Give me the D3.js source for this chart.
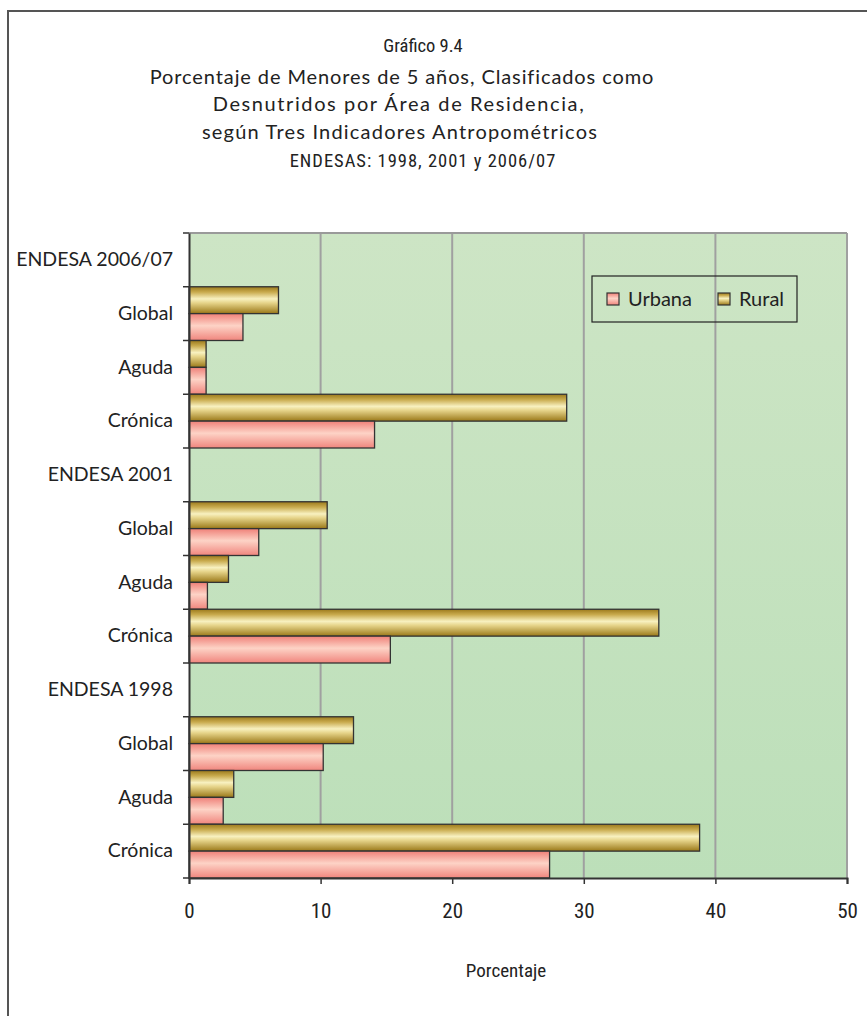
<!DOCTYPE html>
<html><head><meta charset="utf-8">
<script src="https://cdn.jsdelivr.net/npm/d3@7"></script>
<style>body{margin:0;background:#fff}svg{display:block}</style>
</head><body>
<svg id="chart" width="867" height="1016"></svg>
<script>
const titleLines = ["Gráfico 9.4","Porcentaje de Menores de 5 años, Clasificados como","Desnutridos por Área de Residencia,","según Tres Indicadores Antropométricos","ENDESAS: 1998, 2001 y 2006/07"];
const categoryIds = ["h2006","g2006","a2006","c2006","h2001","g2001","a2001","c2001","h1998","g1998","a1998","c1998"];
const categoryLabels = ["ENDESA 2006/07","Global","Aguda","Crónica","ENDESA 2001","Global","Aguda","Crónica","ENDESA 1998","Global","Aguda","Crónica"];
const urbana = [null,4.1,1.3,14.1,null,5.3,1.4,15.3,null,10.2,2.6,27.4];
const rural  = [null,6.8,1.3,28.7,null,10.5,3.0,35.7,null,12.5,3.4,38.8];
const seriesNames = ["Rural","Urbana"];
const xTicks = [0,10,20,30,40,50];
const xTitle = "Porcentaje";

const svg = d3.select("#chart");
const defs = svg.append("defs");
function vgrad(id, stops){
  const g = defs.append("linearGradient").attr("id",id).attr("x1",0).attr("y1",0).attr("x2",0).attr("y2",1);
  stops.forEach(s=>g.append("stop").attr("offset",s[0]).attr("stop-color",s[1]));
}
vgrad("bg",[["0%","#cde5c5"],["100%","#bcdfb9"]]);
vgrad("gRural",[["0%","#9c7a1c"],["20%","#c9ab4e"],["45%","#f8f1c0"],["60%","#e6d48a"],["100%","#9a7818"]]);
vgrad("gUrbana",[["0%","#ef8078"],["45%","#fdd3c6"],["100%","#f0857d"]]);
const fillOf = {Rural:"url(#gRural)", Urbana:"url(#gUrbana)"};

// outer frame
svg.append("path").attr("d","M8,1016 V11 H867").attr("fill","none").attr("stroke","#555").attr("stroke-width",2);

// title
const tfont = "'Liberation Sans Narrow','Roboto Condensed','Open Sans',sans-serif";
const lfont = "Lato,'Open Sans',sans-serif";
const titleFont = [tfont, lfont, lfont, lfont, tfont];
const titleSize = [18.5, 20, 20, 20, 18.5];
const titleSpacing = [0, 0.9, 1.6, 1.2, 1];
const titleCx = [423, 402, 399, 400, 423];
svg.append("g").selectAll("text").data(titleLines).join("text")
  .attr("x",(d,i)=>titleCx[i])
  .attr("y",(d,i)=> i===0 ? 51.5 : 83.5+(i-1)*27.7)
  .attr("text-anchor","middle")
  .attr("letter-spacing",(d,i)=>titleSpacing[i])
  .attr("font-family",(d,i)=>titleFont[i]).attr("font-size",(d,i)=>titleSize[i]).attr("fill","#222")
  .text(d=>d);

const m = {left:189, right:847, top:233, bottom:878};
const x = d3.scaleLinear().domain([0,50]).range([m.left,m.right]);
const y = d3.scaleBand().domain(categoryIds).range([m.top,m.bottom]).padding(0);
const ySub = d3.scaleBand().domain(seriesNames).range([0,y.bandwidth()]).padding(0);

// plot bg
svg.append("rect").attr("x",m.left).attr("y",m.top).attr("width",m.right-m.left).attr("height",m.bottom-m.top).attr("fill","url(#bg)");
// gridlines
svg.append("g").selectAll("line").data(xTicks.slice(1)).join("line")
  .attr("x1",d=>x(d)).attr("x2",d=>x(d)).attr("y1",m.top).attr("y2",m.bottom)
  .attr("stroke","#a0a0a0").attr("stroke-width",2);
svg.append("line").attr("x1",m.left).attr("x2",m.right).attr("y1",m.top).attr("y2",m.top).attr("stroke","#9a9a9a").attr("stroke-width",2);

// bars
const rows = categoryIds.map((id,i)=>({id, Rural:rural[i], Urbana:urbana[i]}));
const gBars = svg.append("g");
rows.forEach(r=>{
  seriesNames.forEach(s=>{
    if(r[s]==null) return;
    gBars.append("rect")
      .attr("x",x(0)).attr("y",y(r.id)+ySub(s))
      .attr("width",x(r[s])-x(0)).attr("height",ySub.bandwidth())
      .attr("fill",fillOf[s]).attr("stroke","#333").attr("stroke-width",1.3);
  });
});

// y axis
const yAxis = svg.append("g").attr("transform",`translate(${m.left},0)`)
  .call(d3.axisLeft(y).tickSize(0).tickPadding(16).tickFormat((d,i)=>categoryLabels[i]));
yAxis.select(".domain").attr("stroke","#333").attr("stroke-width",2);
yAxis.selectAll("text").attr("font-family",lfont).attr("font-size",19.5).attr("fill","#222");
const bounds = categoryIds.map(id=>y(id)).concat([m.bottom]);
yAxis.selectAll(".bt").data(bounds).join("line").attr("class","bt")
  .attr("x1",-6).attr("x2",0).attr("y1",d=>d).attr("y2",d=>d).attr("stroke","#333").attr("stroke-width",1.5);

// x axis
const xAxis = svg.append("g").attr("transform",`translate(0,${m.bottom})`)
  .call(d3.axisBottom(x).tickValues(xTicks).tickSize(6).tickPadding(19));
xAxis.select(".domain").attr("stroke","#333").attr("stroke-width",2);
xAxis.selectAll(".tick line").attr("stroke","#333").attr("stroke-width",1.5);
xAxis.selectAll("text").attr("font-family",tfont).attr("font-size",21).attr("fill","#222");

svg.append("text").attr("x",506).attr("y",977).attr("text-anchor","middle")
  .attr("font-family",tfont).attr("font-size",19).attr("fill","#222").text(xTitle);

// legend
const lg = svg.append("g").attr("transform","translate(592,276)");
lg.append("rect").attr("width",205).attr("height",46).attr("fill","none").attr("stroke","#222").attr("stroke-width",1.2);
const legendItems = [{name:"Urbana",dx:15},{name:"Rural",dx:126}];
legendItems.forEach(it=>{
  lg.append("rect").attr("x",it.dx).attr("y",17).attr("width",12).attr("height",12)
    .attr("fill",fillOf[it.name]).attr("stroke","#333").attr("stroke-width",1.2);
  lg.append("text").attr("x",it.dx+21).attr("y",30).attr("font-family",lfont).attr("font-size",20).attr("fill","#222").text(it.name);
});
</script>
</body></html>
